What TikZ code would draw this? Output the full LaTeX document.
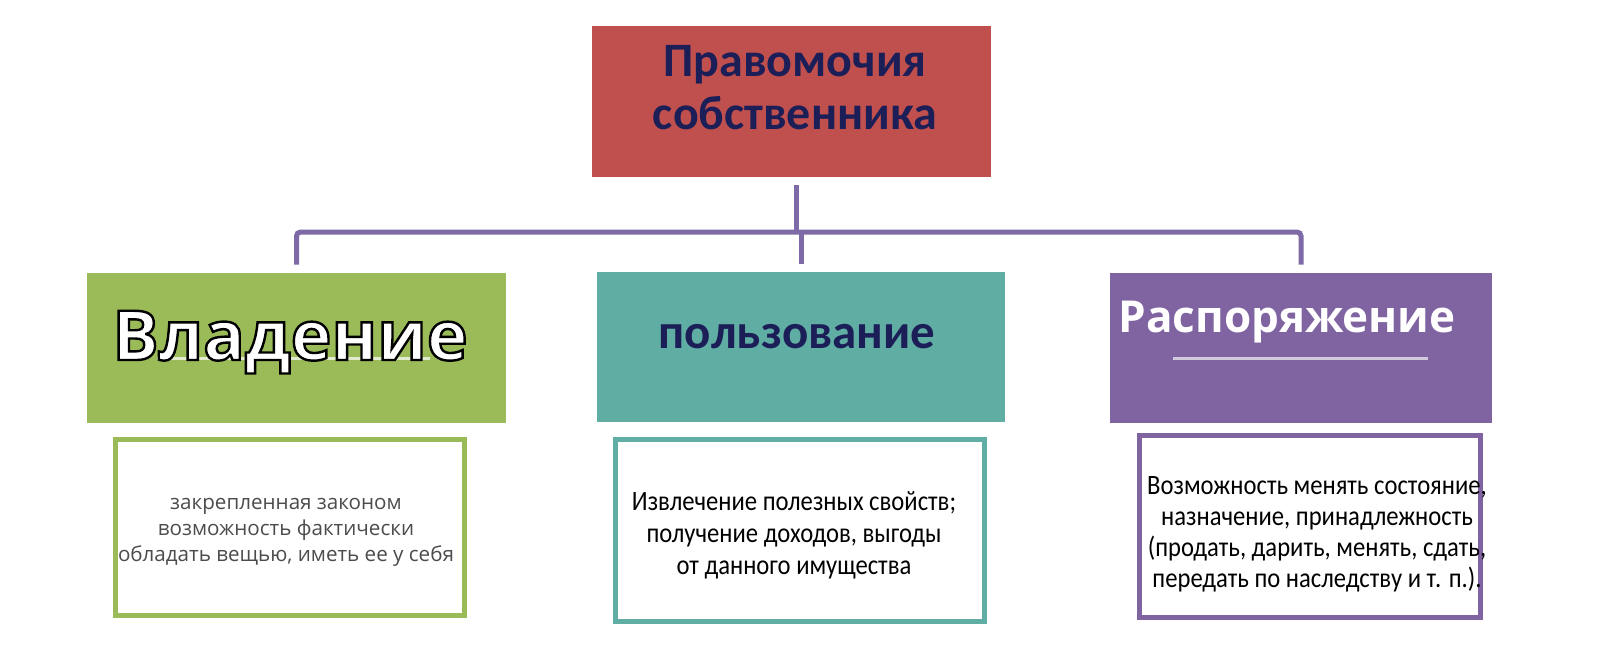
\documentclass[tikz,border=0pt]{standalone}
\usepackage{fontspec}
\setmainfont{Carlito}
\newfontfamily\powerfont{Open Sans}
\newfontfamily\outlinefont[FakeBold=3.5]{Open Sans}
\newfontfamily\descfont[FakeStretch=0.88]{Carlito}
\usetikzlibrary{positioning}

\definecolor{rightsred}{RGB}{192,80,77}
\definecolor{owngreen}{RGB}{155,187,89}
\definecolor{useteal}{RGB}{96,174,163}
\definecolor{disppurple}{RGB}{128,100,162}
\definecolor{headnavy}{RGB}{28,30,88}
\definecolor{linkpurple}{RGB}{126,106,166}

\tikzstyle{powerbox} = [rectangle, minimum height=75pt, inner sep=0pt]
\tikzstyle{descbox} = [rectangle, line width=2.5pt, fill=white, inner sep=0pt, minimum height=91pt]
\tikzstyle{desctext} = [align=center, inner sep=0pt, text depth=0pt, anchor=south]
\tikzstyle{link} = [line width=2.5pt, draw=linkpurple, rounded corners=2pt]

\begin{document}
\begin{tikzpicture}[x=0.5pt, y=-0.5pt]
\fill[white] (0,0) rectangle (1600,653);
\useasboundingbox (0,0) rectangle (1600,653);

% Top: owner's rights
\node (rights) [rectangle, fill=rightsred, minimum width=199.5pt, minimum height=75.5pt] at (791.5,101.5) {};
\node (lblrights) [desctext, font=\bfseries\fontsize{24}{26.5}\selectfont, text=headnavy] at (795,130) {Правомочия\\собственника};

% Middle row: the three powers
\node (own) [powerbox, fill=owngreen, minimum width=209.5pt] at (296.5,348) {};
\node (use) [powerbox, fill=useteal, minimum width=204pt] at (801,347) {};
\node (disp) [powerbox, fill=disppurple, minimum width=191pt] at (1301,348) {};

% Bottom row: descriptions
\node (descown) [descbox, draw=owngreen, minimum width=174.5pt, minimum height=88pt] at (290,527.5) {};
\node (descuse) [descbox, draw=useteal, minimum width=184.5pt] at (800,530.5) {};
\node (descdisp) [descbox, draw=disppurple, minimum width=170.5pt] at (1310,526.5) {};

% Connectors
\coordinate (bus) at (796,232);
\draw[link, shorten <=4pt] (rights.south -| bus) -- (bus);
\draw[link, shorten <=4pt, shorten >=4pt] (own.north) -- (own.north |- bus) -- (disp.north |- bus) -- (disp.north);
\draw[link, shorten >=4pt] (use.north |- bus) -- (use.north);

% Underlines
\draw[line width=1.5pt, draw=owngreen!30!white] (157,358) -- (430,358);
\draw[line width=1.5pt, draw=disppurple!35!white] (1173,358) -- (1428,358);

% Labels
\node (lblown) [anchor=base, inner sep=0pt, font=\outlinefont\bfseries\fontsize{34.5}{38}\selectfont] at (290,360) {\special{pdf:bcolor [1 1 1] [0 0 0]}Владение\special{pdf:ecolor}};
\node (lbluse) [anchor=base, inner sep=0pt, text=headnavy, font=\bfseries\fontsize{24.5}{27}\selectfont] at (797,348) {пользование};
\node (lbldisp) [anchor=base, inner sep=0pt, text=white, font=\powerfont\bfseries\fontsize{22}{25}\selectfont] at (1287,332) {Распоряжение};

\node (txtown) [desctext, text=black!70, font=\powerfont\fontsize{10.3}{13}\selectfont] at (286,562) {закрепленная законом\\возможность фактически\\обладать вещью, иметь ее у себя};
\node (txtuse) [desctext, font=\descfont\fontsize{14}{16}\selectfont] at (794,575) {Извлечение полезных свойств;\\получение доходов, выгоды\\от данного имущества};
\node (txtdisp) [desctext, font=\descfont\fontsize{14}{15.5}\selectfont] at (1317,588) {Возможность менять состояние,\\назначение, принадлежность\\(продать, дарить, менять, сдать,\\передать по наследству и т. п.).};

\end{tikzpicture}
\end{document}
